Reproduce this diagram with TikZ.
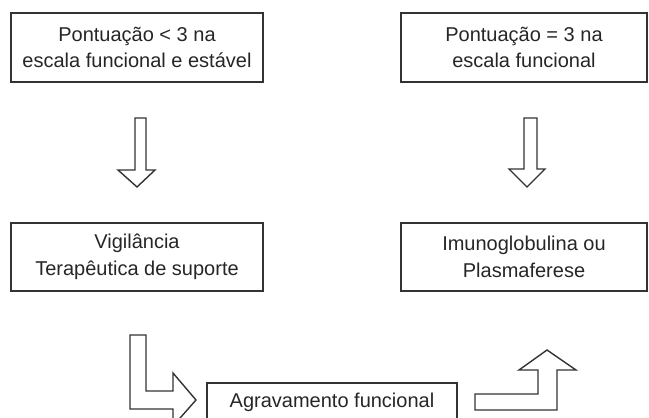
\documentclass[tikz,border=0pt]{standalone}
\usepackage{fontspec}
\setmainfont{Liberation Sans}
\begin{document}
\begin{tikzpicture}[x=1pt, y=-1pt,
		caixa/.style={draw=black!80, line width=1.4pt, align=center, inner sep=0pt, text=black!85, font=\fontsize{20}{26.5}\selectfont},
		seta/.style={draw=black!80, line width=1.4pt, line join=miter, fill=white}]
		\clip (0, 0) rectangle (649, 418);
		
		\node[caixa, minimum width=252pt, minimum height=69pt] (pont1) at (137, 47.5) {Pontuação < 3 na\\escala funcional e estável};
		
		\node[caixa, minimum width=246pt, minimum height=69pt] (pont2) at (524, 47.5) {Pontuação = 3 na\\escala funcional};
		
		\node[caixa, minimum width=252pt, minimum height=68pt] (vigil) at (137, 257) {Vigilância\\Terapêutica de suporte};
		
		\node[caixa, minimum width=246pt, minimum height=68pt] (imuno) at (524, 257) {Imunoglobulina ou\\Plasmaferese};
		
		\node[caixa, minimum width=250pt, minimum height=38pt] (agrav) at (332, 402) {Agravamento funcional};
		
		\draw[seta] (135, 118) -- (146, 118) -- (146, 170) -- (155, 170) -- (137, 187) -- (118, 170) -- (135, 170) -- cycle;
		\draw[seta] (524, 118) -- (537, 118) -- (537, 169) -- (545, 169) -- (527, 187) -- (509, 169) -- (524, 169) -- cycle;
		
		\draw[seta] (130, 335) -- (146, 335) -- (146, 391) -- (173, 391) -- (173, 373) -- (196, 400) -- (173, 426) -- (173, 409) -- (130, 409) -- cycle;
		\draw[seta] (475, 394) -- (538, 394) -- (538, 370) -- (519, 370) -- (547, 350) -- (576, 370) -- (557, 370) -- (557, 410) -- (475, 410) -- cycle;
	\end{tikzpicture}
\end{document}
